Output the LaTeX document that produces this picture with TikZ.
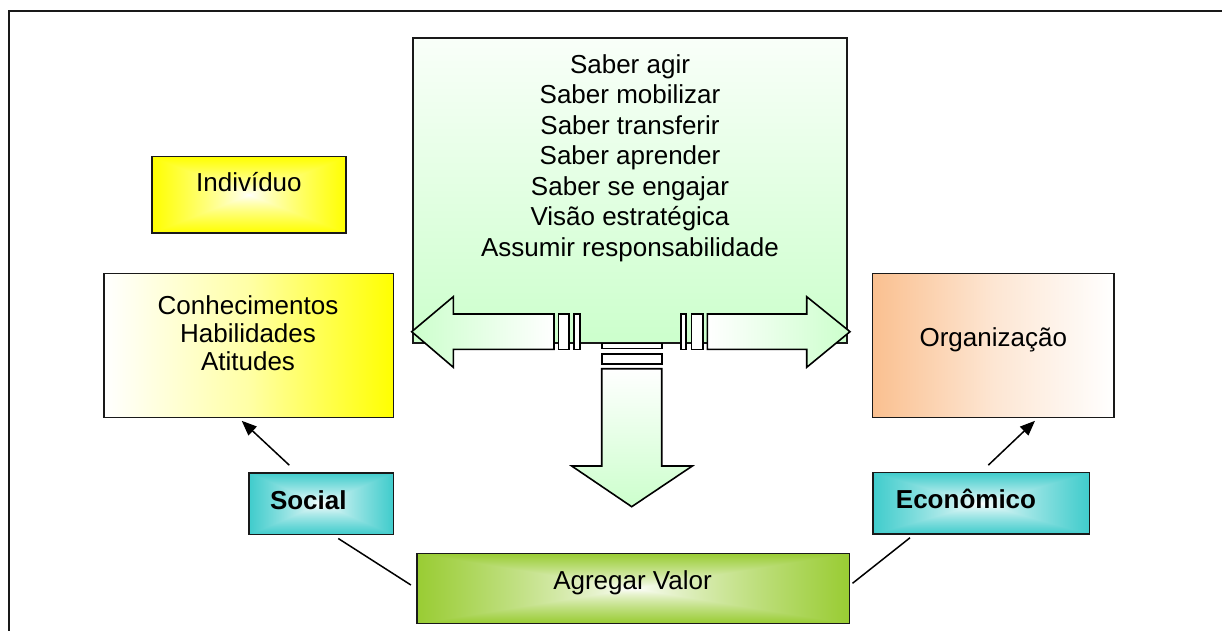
\documentclass[tikz,border=0pt]{standalone}
\usepackage{fontspec}
\setmainfont{Liberation Sans}
\usetikzlibrary{arrows.meta,calc}
\definecolor{lgreen}{HTML}{CCFFCC}
\definecolor{yel}{HTML}{FFFF00}
\definecolor{peach}{HTML}{FAC090}
\newcommand\myrectshade[4]{%
\pgfdeclarefunctionalshading{#1}{\pgfpoint{-50bp}{-50bp}}{\pgfpoint{50bp}{50bp}}{}{abs exch abs 2 copy lt {exch} if pop 25 div dup 1 gt {pop 1} if 0.8 exp dup dup #2 mul 1 exch sub 3 1 roll #3 mul 1 exch sub exch #4 mul 1 exch sub}}
\myrectshade{rectyel}{0}{0}{1}
\myrectshade{rectteal}{0.749}{0.2}{0.2}
\myrectshade{rectgreen}{0.4}{0.2}{0.8}
\tikzset{
  box/.style={draw=black!90, line width=1.6pt, inner sep=0pt},
  txt/.style={font=\fontsize{26}{30.5}\selectfont, inner sep=0pt, anchor=base},
  btxt/.style={font=\fontsize{26}{30.5}\selectfont\bfseries, inner sep=0pt, anchor=base},
  arr/.style={draw=black, line width=1.5pt, -{Triangle[length=15pt,width=12pt]}},
  conn/.style={draw=black, line width=1.5pt},
  bigarrow/.style={draw=black, line width=1.6pt, line join=miter},
  stripe/.style={draw=black, fill=white, line width=1.6pt}
}
\begin{document}
\begin{tikzpicture}[x=1pt,y=-1pt]
\useasboundingbox (0,0) rectangle (1222,631);
\fill[white] (0,0) rectangle (1222,631);
\draw[line width=2.4pt, black!90] (9,11) rectangle (1240,650);

% boxes
\node[box, minimum width=434, minimum height=305, top color=lgreen!12!white, bottom color=lgreen] (sab) at (630,190.5) {};
\node[box, minimum width=194.3, minimum height=76, shading=rectyel] (ind) at (248.9,194.7) {};
\node[box, minimum width=289.3, minimum height=144, left color=white, right color=yel, middle color=yel!35!white] (con) at (248.7,345.3) {};
\node[box, minimum width=241.3, minimum height=144, left color=peach, right color=white, middle color=peach!40!white] (org) at (993.3,345.3) {};
\node[box, minimum width=216.6, minimum height=61.3, shading=rectteal] (eco) at (981,503.3) {};
\node[box, minimum width=144.3, minimum height=61.6, shading=rectteal] (soc) at (321.2,503.5) {};
\node[box, minimum width=432.6, minimum height=70, shading=rectgreen] (agr) at (633,588.3) {};

% block arrows
\path[bigarrow, left color=lgreen, right color=white] (411.7,331.7) -- (453.3,296.7) -- (453.3,314) -- (554,314) -- (554,349.3) -- (453.3,349.3) -- (453.3,367.3) -- cycle;
\path[stripe] (558.3,314) rectangle (569,349.3);
\path[stripe] (574,314) rectangle (580,349.3);
\path[bigarrow, left color=white, right color=lgreen] (850,331.7) -- (806.7,296.7) -- (806.7,314) -- (707.3,314) -- (707.3,349.3) -- (806.7,349.3) -- (806.7,367.3) -- cycle;
\path[stripe] (681,314) rectangle (686,349.3);
\path[stripe] (691.3,314) rectangle (702.7,349.3);
\path[bigarrow, top color=white, bottom color=lgreen] (601.7,368.7) -- (661.7,368.7) -- (661.7,466) -- (692.3,466) -- (631.7,506.7) -- (571.7,466) -- (601.7,466) -- cycle;
\path[stripe] (601.7,343.3) rectangle (661.7,348.3);
\path[stripe] (601.7,354) rectangle (661.7,364);

% texts
\node[txt] (sab1) at (630,73.3) {Saber agir};
\node[txt] (sab2) at (630,103.8) {Saber mobilizar};
\node[txt] (sab3) at (630,134.3) {Saber transferir};
\node[txt] (sab4) at (630,164.8) {Saber aprender};
\node[txt] (sab5) at (630,195.3) {Saber se engajar};
\node[txt] (sab6) at (630,225.8) {Visão estratégica};
\node[txt] (sab7) at (630,256.3) {Assumir responsabilidade};
\node[txt] (tind) at (248.9,191.7) {Indivíduo};
\node[txt] (con1) at (248,314) {Conhecimentos};
\node[txt] (con2) at (248,342) {Habilidades};
\node[txt] (con3) at (248,370) {Atitudes};
\node[txt] (torg) at (993.3,346) {Organização};
\node[btxt] (teco) at (966,508.3) {Econômico};
\node[btxt] (tsoc) at (308.3,509) {Social};
\node[txt] (tagr) at (632.5,589.3) {Agregar Valor};

% connectors
\draw[arr] ([xshift=-31.9pt,yshift=6.7pt]soc.north) -- ([xshift=-7pt,yshift=-2.7pt]con.south);
\draw[arr] ([xshift=7.3pt,yshift=6.7pt]eco.north) -- ([xshift=41.7pt,yshift=-2.7pt]org.south);
\draw[conn] ([xshift=17.1pt,yshift=-3.4pt]soc.south) -- ([xshift=-5pt,yshift=3.3pt]agr.west);
\draw[conn] ([xshift=2.4pt,yshift=5pt]agr.east) -- ([xshift=-71pt,yshift=-3pt]eco.south);
\end{tikzpicture}
\end{document}
